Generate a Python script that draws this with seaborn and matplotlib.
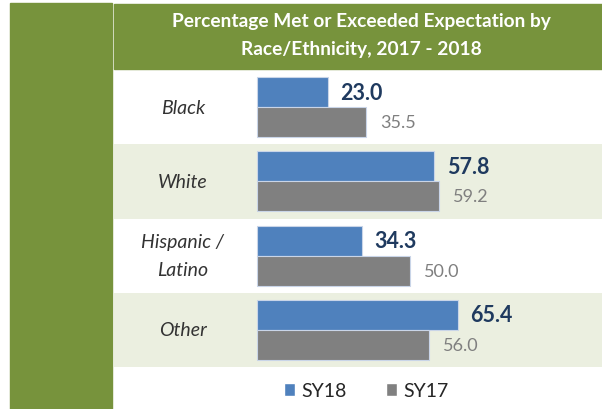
import pandas as pd
import numpy as np
import matplotlib
matplotlib.use("Agg")
import matplotlib.pyplot as plt
import seaborn as sns
from matplotlib.patches import Rectangle, Patch

# data
groups = ["Black", "White", "Hispanic /\nLatino", "Other"]
sy18 = [23.0, 57.8, 34.3, 65.4]
sy17 = [35.5, 59.2, 50.0, 56.0]
years = ["SY18", "SY17"]

df = pd.DataFrame({
    "group": groups * 2,
    "value": sy18 + sy17,
    "year": [years[0]] * len(groups) + [years[1]] * len(groups),
})

green = "#77933C"
band = "#EBEFE0"
blue = "#4F81BD"
grey = "#808080"

sns.set_theme(style="white")
plt.rcParams["font.family"] = ["Lato", "DejaVu Sans"]

W, H = 602, 410
fig = plt.figure(figsize=(W / 100, H / 100), dpi=100)

# side bar and title band
fig.patches.append(Rectangle((10 / W, 0), 102 / W, 406 / H, transform=fig.transFigure,
                             color=green, zorder=0))
fig.patches.append(Rectangle((114 / W, (H - 70) / H), (W - 114) / W, 65 / H,
                             transform=fig.transFigure, color=green, zorder=0))
fig.text(361 / W, 1 - 21 / H, "Percentage Met or Exceeded Expectation by",
         color="white", fontsize=13.8, fontweight="bold", ha="center", va="center")
fig.text(361 / W, 1 - 50 / H, "Race/Ethnicity, 2017 - 2018",
         color="white", fontsize=13.8, fontweight="bold", ha="center", va="center")

ax = fig.add_axes([114 / W, (H - 368) / H, (W - 114) / W, 297 / H])
for i in [1, 3]:
    ax.axhspan(i - 0.5, i + 0.5, color=band, zorder=0, lw=0)

sns.barplot(data=df, y="group", x="value", hue="year", hue_order=years,
            orient="h", palette=[blue, grey], saturation=1, width=0.81, ax=ax,
            edgecolor="#C9D5E8", linewidth=0.8, legend=False, zorder=2)

ax.bar_label(ax.containers[0], fmt="%.1f", padding=9, fontsize=15.5,
             fontweight="bold", color="#1F3A5F")
ax.bar_label(ax.containers[1], fmt="%.1f", padding=10, fontsize=13,
             color="#7F7F7F")

ax.set_xlim(-46.6, 112.4)
ax.set_ylim(3.5, -0.5)
ax.set_xlabel("")
ax.set_ylabel("")
ax.set_xticks([])
ax.set_yticks([])
for s in ax.spines.values():
    s.set_visible(False)

trans = matplotlib.transforms.blended_transform_factory(ax.transAxes, ax.transData)
for i, g in enumerate(groups):
    ax.text(0.141, i, g, transform=trans, ha="center", va="center",
            fontsize=14, fontstyle="italic", color="#333333", linespacing=1.75)

handles = [Patch(facecolor=blue), Patch(facecolor=grey)]
fig.legend(handles, years, loc="center", bbox_to_anchor=(366 / W, 1 - 392 / H),
           ncol=2, frameon=False, fontsize=14, handlelength=0.6, handleheight=0.6,
           handletextpad=0.3, columnspacing=2.0, labelcolor="#262626")

fig.savefig("out.png", dpi=100)
